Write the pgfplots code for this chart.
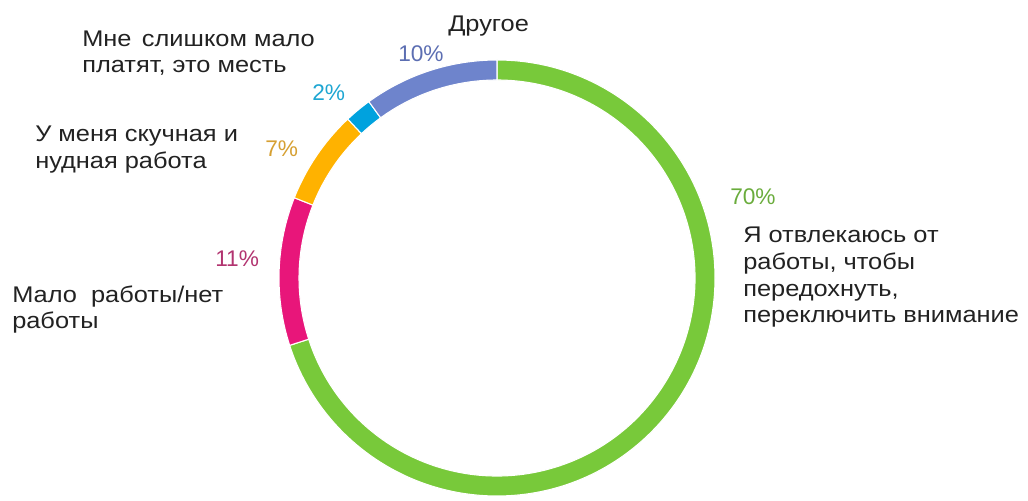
\documentclass[border=0pt]{standalone}
\usepackage{pgfplots}
\pgfplotsset{compat=1.18}
\usepackage{fontspec}
\setmainfont{Liberation Sans}
\newfontfamily\widefont[FakeStretch=1.12]{Liberation Sans}
\definecolor{cgreen}{RGB}{120,201,58}
\definecolor{cpink}{RGB}{232,22,122}
\definecolor{corange}{RGB}{255,178,0}
\definecolor{ccyan}{RGB}{0,162,222}
\definecolor{cblue}{RGB}{110,132,204}
\definecolor{tgreen}{RGB}{106,172,60}
\definecolor{tpink}{RGB}{178,52,112}
\definecolor{torange}{RGB}{214,160,50}
\definecolor{tcyan}{RGB}{30,166,210}
\definecolor{tblue}{RGB}{92,110,178}
\definecolor{tdark}{RGB}{34,34,34}
\tikzset{lbl/.style={anchor=base west, inner sep=0pt, font=\fontsize{17pt}{20pt}\selectfont},
         cat/.style={lbl, text=tdark, font=\widefont\fontsize{17pt}{20pt}\selectfont}}
\begin{document}
\begin{tikzpicture}
\begin{axis}[
  x=0.75pt, y=0.75pt,
  xmin=0, xmax=1028, ymin=0, ymax=497,
  hide axis, clip=false,
]
\path (axis cs:0,0) rectangle (axis cs:1028,497);
\def\cx{497}\def\cy{219}\def\ro{218}\def\ri{198}
\def\a{90}
\foreach \v/\c in {70/cgreen, 11/cpink, 7/corange, 2/ccyan, 10/cblue}{
  \pgfmathsetmacro\b{\a-3.6*\v}
  \pgfmathsetmacro\xo{\cx+\ro*cos(\a)}
  \pgfmathsetmacro\yo{\cy+\ro*sin(\a)}
  \pgfmathsetmacro\xi{\cx+\ri*cos(\b)}
  \pgfmathsetmacro\yi{\cy+\ri*sin(\b)}
  \edef\seg{\noexpand\fill[\c, draw=white, line width=0.8pt]
    (axis cs:\xo,\yo) arc[start angle=\a, end angle=\b, radius=163.5pt]
    -- (axis cs:\xi,\yi) arc[start angle=\b, end angle=\a, radius=148.5pt] -- cycle;}
  \seg
  \global\let\a\b
}
% labels (x, 497 - baseline)
\node[cat] at (axis cs:448,465) {Другое};
\node[cat] at (axis cs:82,450) {Мне\hspace{0.15em} слишком мало};
\node[cat] at (axis cs:82,424) {платят, это месть};
\node[lbl, text=tblue] at (axis cs:398,435) {10\%};
\node[lbl, text=tcyan] at (axis cs:312,396) {2\%};
\node[cat] at (axis cs:35,355) {У меня скучная и};
\node[cat] at (axis cs:35,328) {нудная работа};
\node[lbl, text=torange] at (axis cs:265,340) {7\%};
\node[lbl, text=tpink] at (axis cs:215,230) {11\%};
\node[cat] at (axis cs:12,194) {Мало \ работы/нет};
\node[cat] at (axis cs:12,168) {работы};
\node[lbl, text=tgreen] at (axis cs:730,292) {70\%};
\node[cat] at (axis cs:743,254) {Я отвлекаюсь от};
\node[cat] at (axis cs:743,227) {работы, чтобы};
\node[cat] at (axis cs:743,200) {передохнуть,};
\node[cat] at (axis cs:743,174) {переключить внимание};
\end{axis}
\end{tikzpicture}
\end{document}
